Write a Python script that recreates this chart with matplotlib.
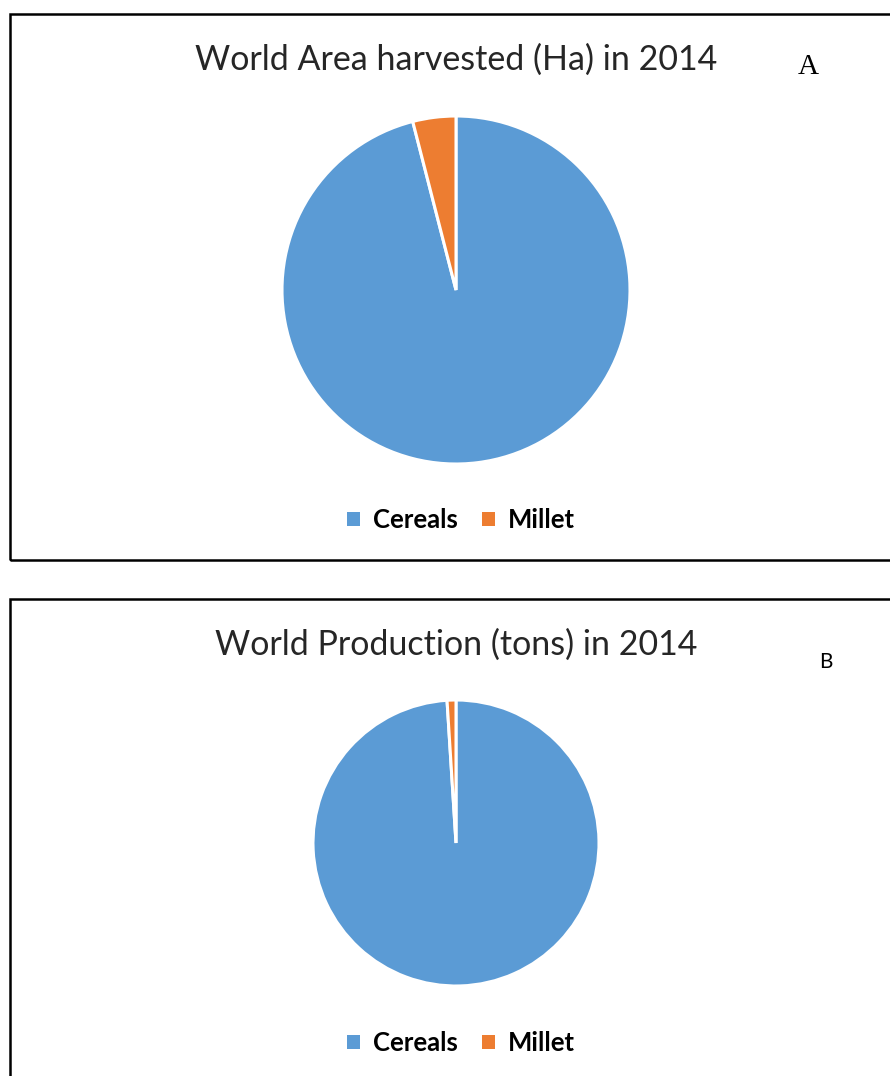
import matplotlib
matplotlib.use("Agg")
import matplotlib.pyplot as plt
from matplotlib.patches import Rectangle, Patch

categories = ["Cereals", "Millet"]
area_values = [96.0, 4.0]          # share of world area harvested (%)
production_values = [99.0, 1.0]    # share of world production (%)
colors = ["#5B9BD5", "#ED7D31"]

W, H = 890, 1076
fig = plt.figure(figsize=(W / 100, H / 100), dpi=100)
fig.patch.set_facecolor("white")

def px_axes(cx, cy, r):
    return fig.add_axes([(cx - r) / W, 1 - (cy + r) / H, 2 * r / W, 2 * r / H])

def panel(values, cx, cy, r, title, title_y, letter, lx, ly, lfont, lsize, legend_x, legend_y):
    ax = px_axes(cx, cy, r)
    ax.pie(values, colors=colors, startangle=90, counterclock=False,
           radius=1.0, wedgeprops=dict(edgecolor="white", linewidth=2.2))
    ax.set_xlim(-1, 1)
    ax.set_ylim(-1, 1)
    ax.set_aspect("equal")
    ax.axis("off")
    fig.text(cx / W, 1 - title_y / H, title, ha="center", va="center",
             fontsize=24.5, family="Lato", color="#262626")
    fig.text(lx / W, 1 - ly / H, letter, ha="center", va="center",
             fontsize=lsize, family=lfont, color="black")
    handles = [Patch(facecolor=c, edgecolor="none") for c in colors]
    fig.legend(handles, categories, loc="center", bbox_to_anchor=(legend_x / W, 1 - legend_y / H),
               ncol=2, frameon=False, handlelength=0.5, handleheight=0.5,
               handletextpad=0.5, columnspacing=0.95,
               prop=dict(family="Lato", weight="bold", size=18.5))

# panel borders
fig.add_artist(Rectangle((10 / W, 1 - 560 / H), 1.0, (560 - 14) / H, transform=fig.transFigure,
                         fill=False, edgecolor="black", linewidth=1.8))
fig.add_artist(Rectangle((10 / W, 1 - 1090 / H), 1.0, (1090 - 599) / H, transform=fig.transFigure,
                         fill=False, edgecolor="black", linewidth=1.8))

panel(area_values, 456, 290, 174, "World Area harvested (Ha) in 2014", 60,
      "A", 808, 67, "Liberation Serif", 21, 461, 520)
panel(production_values, 456, 843, 143, "World Production (tons) in 2014", 645,
      "B", 826, 662, "Lato", 15, 461, 1043)

fig.savefig("out.png", dpi=100)
